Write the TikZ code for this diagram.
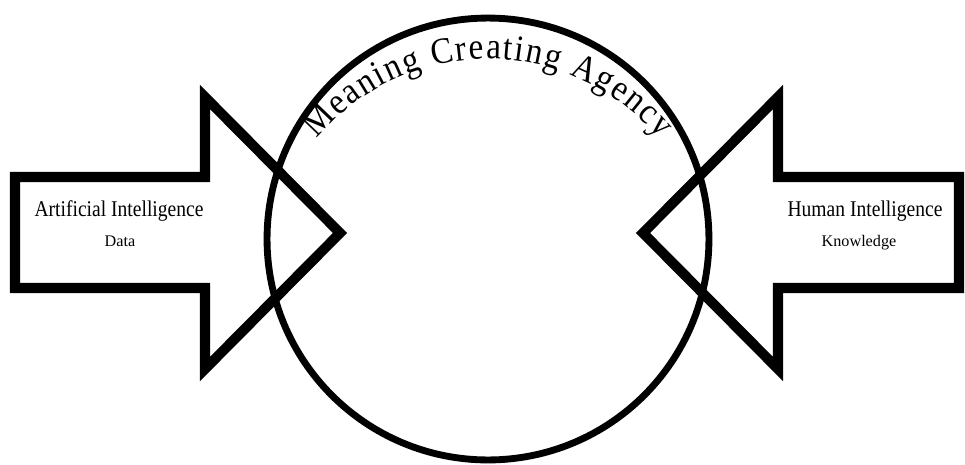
\documentclass[tikz,border=0pt]{standalone}
\usepackage{fontspec}
\setmainfont{Liberation Serif}
\newfontfamily\narrowserif[FakeStretch=0.87]{Liberation Serif}
\newfontfamily\ringserif[FakeStretch=0.9]{Liberation Serif}
\usetikzlibrary{positioning,calc,decorations.text}

\begin{document}
\begin{tikzpicture}[
  x=0.02cm, y=0.02cm,
  bigarrow/.style={draw, line width=5.7pt, miter limit=10},
  ring/.style={draw, circle, line width=3.9pt, minimum size=8.84cm, inner sep=0pt},
  mainlbl/.style={font=\narrowserif\fontsize{12.8}{15}\selectfont, anchor=base, inner sep=0pt},
  sublbl/.style={font=\fontsize{9.2}{11}\selectfont, anchor=base, inner sep=0pt}]
\useasboundingbox (0,0) rectangle (965,-464);
% the agency circle
\node[ring] (agency) at (488,-239) {};
\coordinate (tc) at ($(agency.center)+(0,-44)$);
\path[decorate, decoration={text along path, text align=fit to path,
    text={|\ringserif\fontsize{21}{24}\selectfont|Meaning Creating Agency}}]
  ($(tc)+(140:4.48cm)$) arc[start angle=140, end angle=40, radius=4.48cm];
% left arrow
\draw[bigarrow] (15,-177) -- (205,-177) -- (205,-97) -- (340,-233)
  -- (205,-369) -- (205,-288) -- (15,-288) -- cycle;
\node[mainlbl] (ai) at (119,-216.7) {Artificial Intelligence};
\node[sublbl] (data) at (120,-246.7) {Data};
% right arrow
\draw[bigarrow] (959,-177) -- (778,-177) -- (778,-97) -- (643,-233)
  -- (778,-369) -- (778,-288) -- (959,-288) -- cycle;
\node[mainlbl] (hi) at (865,-216.7) {Human Intelligence};
\node[sublbl] (know) at (859,-246.7) {Knowledge};
\end{tikzpicture}
\end{document}
